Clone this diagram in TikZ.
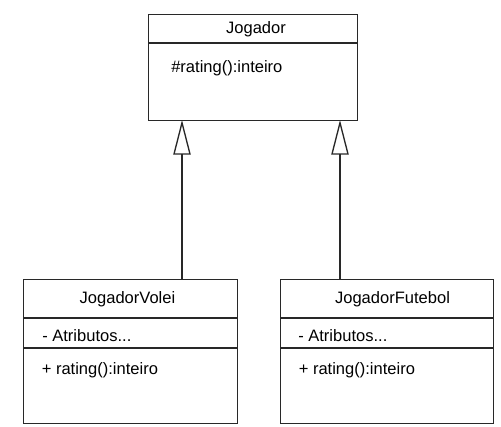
\documentclass[tikz,border=0pt]{standalone}
\usepackage{fontspec}
\setmainfont{Liberation Sans}
\usetikzlibrary{positioning,arrows.meta}
\definecolor{umlline}{RGB}{40,40,40}

\tikzset{
  classbox/.style={draw=umlline, line width=1.1pt, inner sep=0pt, anchor=north west},
  title/.style={font=\fontsize{12.4}{15}\selectfont, inner sep=0pt},
  member/.style={font=\fontsize{12.4}{15}\selectfont, inner sep=0pt, anchor=west},
  heranca/.style={draw=umlline, line width=1.1pt, -{Triangle[open, length=26pt, width=13pt, line width=1pt]}}
}

\begin{document}
\begin{tikzpicture}[x=0.75pt,y=-0.75pt]
  \useasboundingbox (0,0) rectangle (501,427);

  % superclasse
  \node[classbox, minimum width=156.75pt, minimum height=79.5pt] (jogador) at (148,14) {};
  \draw[umlline, line width=1.1pt] (148,43) -- (357,43);
  \node[title] (jogadorT) at (256,29) {Jogador};
  \node[member] (jogadorM) at (171,68) {\#rating():inteiro};

  % subclasses
  \node[classbox, minimum width=160.5pt, minimum height=108pt] (volei) at (23,279) {};
  \draw[umlline, line width=1.1pt] (23,318) -- (237,318);
  \draw[umlline, line width=1.1pt] (23,348) -- (237,348);
  \node[title] (voleiT) at (127.5,299) {JogadorVolei};
  \node[member] (voleiA) at (42,336) {- Atributos...};
  \node[member] (voleiM) at (41.5,370) {+ rating():inteiro};

  \node[classbox, minimum width=159.75pt, minimum height=108pt] (futebol) at (280,279) {};
  \draw[umlline, line width=1.1pt] (280,318) -- (493,318);
  \draw[umlline, line width=1.1pt] (280,348) -- (493,348);
  \node[title] (futebolT) at (392.5,299) {JogadorFutebol};
  \node[member] (futebolA) at (298,336) {- Atributos...};
  \node[member] (futebolM) at (298.5,370) {+ rating():inteiro};

  % heranca
  \coordinate (h1) at (182,120);
  \coordinate (h2) at (340,120);
  \draw[heranca] (h1 |- volei.north) -- (h1);
  \draw[heranca] (h2 |- futebol.north) -- (h2);
\end{tikzpicture}
\end{document}
